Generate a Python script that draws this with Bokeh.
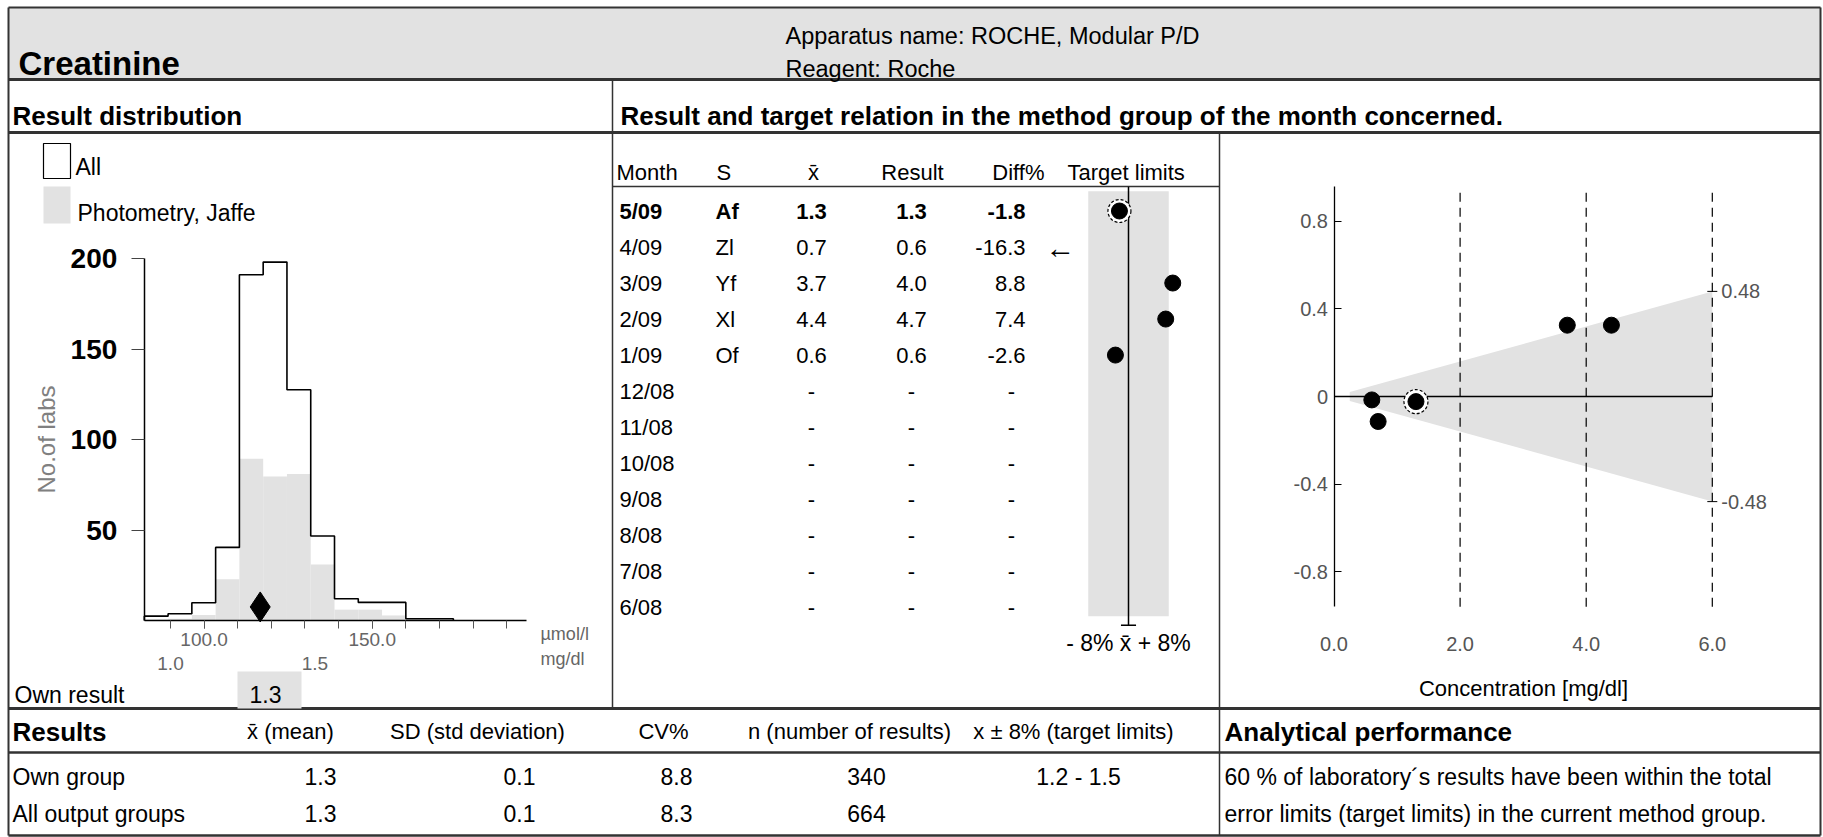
from bokeh.plotting import figure
from bokeh.models import Range1d, LinearAxis, FixedTicker, PrintfTickFormatter, ColumnDataSource
from bokeh.core.properties import value
from bokeh.embed import file_html
from bokeh.resources import INLINE

# ------------------------------------------------------------------ data
test_name = "Creatinine"
apparatus = "ROCHE, Modular P/D"
reagent = "Roche"
method_group = "Photometry, Jaffe"
umol_per_mgdl = 88.4
target_pct = 8

# histogram (bin edges in mg/dl, counts of labs)
hist_edges_mgdl = [0.93, 1.01, 1.09, 1.17, 1.25, 1.33, 1.41, 1.49, 1.57, 1.65, 1.73, 1.81, 1.89, 1.97]
hist_all = [2.4, 3.7, 9.8, 40.4, 191, 198, 127.5, 46.7, 12, 10, 10, 1, 1]
hist_method = [0.5, 1, 3, 22.8, 89.3, 79.6, 81, 31, 6, 6, 2.8, 0.5, 0]
own_result = 1.32  # mg/dl
count_ticks = [50, 100, 150, 200]
umol_major_ticks = [100, 150]
umol_minor_ticks = [90, 100, 110, 120, 130, 140, 150, 160, 170, 180, 190]
mgdl_ticks = [1.0, 1.5]

# monthly results
months = ["5/09", "4/09", "3/09", "2/09", "1/09", "12/08", "11/08", "10/08", "9/08", "8/08", "7/08", "6/08"]
samples = ["Af", "Zl", "Yf", "Xl", "Of", "", "", "", "", "", "", ""]
means = [1.3, 0.7, 3.7, 4.4, 0.6, None, None, None, None, None, None, None]
results = [1.3, 0.6, 4.0, 4.7, 0.6, None, None, None, None, None, None, None]
diffs = [-1.8, -16.3, 8.8, 7.4, -2.6, None, None, None, None, None, None, None]

# deviation plot axes
conc_ticks = [0, 2, 4, 6]
dev_ticks = [-0.8, -0.4, 0, 0.4, 0.8]

# summary statistics
stat_rows = ["Own group", "All output groups"]
stat_mean = [1.3, 1.3]
stat_sd = [0.1, 0.1]
stat_cv = [8.8, 8.3]
stat_n = [340, 664]
stat_limits = ["1.2 - 1.5", ""]
performance_pct = 60

# ------------------------------------------------------------------ canvas
W, H = 1823, 837
FONT = "Liberation Sans"
LINE = "#333333"
GRAY = "#e2e2e2"

p = figure(width=W, height=H, x_range=Range1d(0, W), y_range=Range1d(H, 0),
           x_axis_type=None, y_axis_type=None, toolbar_location=None,
           output_backend="svg", min_border=0, outline_line_color=None,
           background_fill_color="white", border_fill_color="white")
p.xgrid.visible = False
p.ygrid.visible = False

# histogram scales (pixel anchors: 100 umol/l -> x 203.6, 3.362 px per umol/l; 0 labs -> y 620, 1.81 px per lab)
hpx, h0 = 3.362, 100 - 203.6 / 3.362
cpx, c0 = 1.81, 620
# second (mg/dl) scale as printed on the report: 1.0 -> x 170, 1.5 -> x 314.4
mpx, m0 = 288.8, 1.0 - 170 / 288.8
# deviation plot scales (0 mg/dl -> x 1333.5, 63.05 px/unit; 0 -> y 396, 219 px/unit)
spx, s0 = 63.05, 1333.5
dpx, d0 = 219.0, 396
# target column (0 % -> x 1128, 5.03 px per %), rows (row 0 -> y 210.5, 36.02 px per row)
tpx, t0 = 5.03, 1128
rpx, r0 = 36.02, 210.5

p.extra_x_ranges = {
    "hx": Range1d(h0, h0 + W / hpx),
    "hmg": Range1d(m0, m0 + W / mpx),
    "sx": Range1d(-s0 / spx, (W - s0) / spx),
    "tx": Range1d(-t0 / tpx, (W - t0) / tpx),
}
p.extra_y_ranges = {
    "hy": Range1d(-(H - c0) / cpx, c0 / cpx),
    "sy": Range1d(-(H - d0) / dpx, d0 / dpx),
    "rows": Range1d((H - r0) / rpx, -r0 / rpx),
}


def add_text(xs, ys, texts, size, align="left", baseline="middle", bold=False, color="#000000", **kw):
    src = ColumnDataSource(dict(x=list(xs), y=list(ys), t=list(texts)))
    p.text(x="x", y="y", text="t", source=src, text_font=value(FONT),
           text_font_size=f"{size}px", text_font_style="bold" if bold else "normal",
           text_align=align, text_baseline=baseline, text_color=color, **kw)


def fmt(v, f="{:.1f}"):
    return "-" if v is None else f.format(v)


# ------------------------------------------------------------------ report frame
p.quad(left=[8], right=[1820], top=[7], bottom=[79], fill_color=GRAY, line_color=None)
p.segment(x0=[8, 8, 8, 8, 8, 8, 1820, 612, 1219, 612, 8],
          y0=[7, 79, 132, 708, 752, 835, 7, 79, 132, 186, 7],
          x1=[1820, 1820, 1820, 1820, 1820, 1820, 1820, 612, 1219, 1219, 8],
          y1=[7, 79, 132, 708, 752, 835, 835, 708, 835, 186, 835],
          line_color=LINE, line_width=[2, 3, 3, 3, 2.5, 2.5, 2, 1.5, 1.5, 1.5, 2])

add_text([18], [63], [test_name], 33, baseline="alphabetic", bold=True)
add_text([785, 785], [35, 68], [f"Apparatus name:  {apparatus}", f"Reagent:  {reagent}"], 23.5,
         baseline="alphabetic")
add_text([12, 620], [115, 115], ["Result distribution",
                                 "Result and target relation in the method group of the month concerned."],
         26, baseline="alphabetic", bold=True)

# ------------------------------------------------------------------ histogram
edges_um = [e * umol_per_mgdl for e in hist_edges_mgdl]
p.quad(left=edges_um[:-1], right=edges_um[1:], top=hist_method, bottom=0,
       fill_color=GRAY, line_color=None, x_range_name="hx", y_range_name="hy")
step_x, step_y = [edges_um[0]], [0]
for i, c in enumerate(hist_all):
    step_x += [edges_um[i], edges_um[i + 1]]
    step_y += [c, c]
step_x.append(edges_um[-1])
step_y.append(0)
p.line(step_x, step_y, line_color="black", line_width=1.6, x_range_name="hx", y_range_name="hy")
p.scatter(x=[own_result * umol_per_mgdl], y=[7.5], marker="diamond", size=30,
          fill_color="black", line_color="black", x_range_name="hx", y_range_name="hy")

ax_um = LinearAxis(x_range_name="hx", y_range_name="hy", fixed_location=0,
                   bounds=(edges_um[0], 196),
                   ticker=FixedTicker(ticks=umol_major_ticks, minor_ticks=umol_minor_ticks),
                   formatter=PrintfTickFormatter(format="%.1f"))
ax_um.axis_line_color = "black"
ax_um.axis_line_width = 1.5
ax_um.major_tick_out = 8
ax_um.major_tick_in = 0
ax_um.minor_tick_out = 8
ax_um.minor_tick_in = 0
ax_um.major_tick_line_color = "#555555"
ax_um.minor_tick_line_color = "#555555"
ax_um.major_label_standoff = 4
ax_um.major_label_text_font = FONT
ax_um.major_label_text_font_size = "19px"
ax_um.major_label_text_color = "#666666"
p.add_layout(ax_um, "below")

ax_mg = LinearAxis(x_range_name="hmg", y_range_name="hy", fixed_location=0,
                   ticker=FixedTicker(ticks=mgdl_ticks, minor_ticks=[]),
                   formatter=PrintfTickFormatter(format="%.1f"))
ax_mg.axis_line_color = None
ax_mg.major_tick_line_color = None
ax_mg.minor_tick_line_color = None
ax_mg.major_tick_out = 0
ax_mg.major_tick_in = 0
ax_mg.major_label_standoff = 36
ax_mg.major_label_text_font = FONT
ax_mg.major_label_text_font_size = "19px"
ax_mg.major_label_text_color = "#666666"
p.add_layout(ax_mg, "below")

ax_cnt = LinearAxis(x_range_name="hx", y_range_name="hy", fixed_location=edges_um[0],
                    bounds=(0, 200), ticker=FixedTicker(ticks=count_ticks, minor_ticks=[]),
                    axis_label="No.of labs")
ax_cnt.axis_line_color = "black"
ax_cnt.axis_line_width = 1.5
ax_cnt.major_tick_out = 13
ax_cnt.major_tick_in = 0
ax_cnt.major_tick_line_color = "#444444"
ax_cnt.minor_tick_line_color = None
ax_cnt.major_label_standoff = 14
ax_cnt.major_label_text_font = FONT
ax_cnt.major_label_text_font_size = "28px"
ax_cnt.major_label_text_font_style = "bold"
ax_cnt.major_label_text_color = "black"
ax_cnt.axis_label_text_font = FONT
ax_cnt.axis_label_text_font_size = "24px"
ax_cnt.axis_label_text_font_style = "normal"
ax_cnt.axis_label_text_color = "#808080"
ax_cnt.axis_label_standoff = 8
p.add_layout(ax_cnt, "left")

# legend
p.quad(left=[43], right=[70], top=[143], bottom=[178], fill_color="white", line_color="black", line_width=1.2)
p.quad(left=[43], right=[70], top=[186], bottom=[223], fill_color=GRAY, line_color=None)
add_text([75, 77], [166, 212], ["All", method_group], 23)
add_text([540, 540], [633, 658], ["\u00b5mol/l", "mg/dl"], 18, color="#666666")

# own result box
p.quad(left=[237], right=[301], top=[671], bottom=[708], fill_color=GRAY, line_color=None)
add_text([14, 249], [694, 694], ["Own result", f"{own_result:.1f}"], 23)

# ------------------------------------------------------------------ monthly table
add_text([616, 716], [172, 172], ["Month", "S"], 22)
add_text([813, 912], [172, 172], ["x\u0304", "Result"], 22, align="center")
add_text([1044], [172], ["Diff%"], 22, align="right")
add_text([1067], [172], ["Target limits"], 22)

rows = list(range(len(months)))
for bold, idx in ((True, rows[:1]), (False, rows[1:])):
    add_text([619] * len(idx), idx, [months[i] for i in idx], 22, bold=bold, y_range_name="rows")
    add_text([715] * len(idx), idx, [samples[i] for i in idx], 22, bold=bold, y_range_name="rows")
    add_text([811] * len(idx), idx, [fmt(means[i]) for i in idx], 22, align="center", bold=bold,
             y_range_name="rows")
    add_text([911] * len(idx), idx, [fmt(results[i]) for i in idx], 22, align="center", bold=bold,
             y_range_name="rows")
    d_idx = [i for i in idx if diffs[i] is not None]
    n_idx = [i for i in idx if diffs[i] is None]
    if d_idx:
        add_text([1025] * len(d_idx), d_idx, [fmt(diffs[i]) for i in d_idx], 22, align="right", bold=bold,
                 y_range_name="rows")
    if n_idx:
        add_text([1011] * len(n_idx), n_idx, ["-"] * len(n_idx), 22, align="center", bold=bold,
                 y_range_name="rows")

# target limit band
p.quad(left=[-target_pct], right=[target_pct], top=[-0.55], bottom=[len(months) - 0.75],
       fill_color=GRAY, line_color=None, x_range_name="tx", y_range_name="rows")
p.segment(x0=[0, -1.5], y0=[-0.67, len(months) - 0.5], x1=[0, 1.5], y1=[len(months) - 0.5, len(months) - 0.5],
          line_color="black", line_width=1.5, x_range_name="tx", y_range_name="rows")
add_text([0], [len(months)], [f"- {target_pct}% x\u0304 + {target_pct}%"], 23, align="center",
         x_range_name="tx", y_range_name="rows")

in_rows = [i for i in rows if diffs[i] is not None and abs(diffs[i]) <= target_pct + 2]
out_rows = [i for i in rows if diffs[i] is not None and abs(diffs[i]) > target_pct + 2]
p.scatter(x=[diffs[0]], y=[0], size=23, fill_color="white", line_color="black", line_dash="3 2",
          line_width=1.2, x_range_name="tx", y_range_name="rows")
p.scatter(x=[diffs[i] for i in in_rows], y=in_rows, size=16, fill_color="black", line_color="black",
          x_range_name="tx", y_range_name="rows")
add_text([-target_pct if diffs[i] < 0 else target_pct for i in out_rows], out_rows,
         ["\u2190" if diffs[i] < 0 else "\u2192" for i in out_rows], 30, align="center",
         x_offset=-28, x_range_name="tx", y_range_name="rows")

# ------------------------------------------------------------------ deviation plot
cmax = conc_ticks[-1]
lim = cmax * target_pct / 100
x_start = 0.25
p.patch(x=[x_start, cmax, cmax, x_start],
        y=[x_start * target_pct / 100, lim, -lim, -x_start * target_pct / 100],
        fill_color=GRAY, line_color=None, x_range_name="sx", y_range_name="sy")
p.segment(x0=conc_ticks[1:], y0=[-0.96] * 3, x1=conc_ticks[1:], y1=[0.94] * 3,
          line_color="black", line_dash="9 6", line_width=1.2, x_range_name="sx", y_range_name="sy")
p.segment(x0=[0], y0=[0], x1=[cmax], y1=[0], line_color="black", line_width=1.5,
          x_range_name="sx", y_range_name="sy")
p.scatter(x=[cmax, cmax], y=[lim, -lim], marker="dash", size=10, line_color="black",
          x_range_name="sx", y_range_name="sy")
add_text([cmax, cmax], [lim, -lim], [f"{lim:.2f}", f"{-lim:.2f}"], 20, color="#555555",
         x_offset=9, x_range_name="sx", y_range_name="sy")

pts = [i for i in rows if means[i] is not None]
dev = [means[i] * diffs[i] / 100 for i in pts]
p.scatter(x=[means[0]], y=[dev[0]], size=24, fill_color="white", line_color="black", line_dash="3 2",
          line_width=1.2, x_range_name="sx", y_range_name="sy")
p.scatter(x=[means[i] for i in pts], y=dev, size=16, fill_color="black", line_color="black",
          x_range_name="sx", y_range_name="sy")

ax_dev = LinearAxis(x_range_name="sx", y_range_name="sy", fixed_location=0, bounds=(-0.96, 0.96),
                    ticker=FixedTicker(ticks=dev_ticks, minor_ticks=[]),
                    formatter=PrintfTickFormatter(format="%.1f"), major_label_overrides={0: "0"})
ax_dev.axis_line_color = "black"
ax_dev.axis_line_width = 1.3
ax_dev.major_tick_in = 7
ax_dev.major_tick_out = 0
ax_dev.major_label_standoff = 6
ax_dev.major_label_text_font = FONT
ax_dev.major_label_text_font_size = "20px"
ax_dev.major_label_text_color = "#555555"
p.add_layout(ax_dev, "left")

ax_conc = LinearAxis(x_range_name="sx", y_range_name="sy", fixed_location=-0.96, bounds=(0, cmax),
                     ticker=FixedTicker(ticks=conc_ticks, minor_ticks=[]),
                     formatter=PrintfTickFormatter(format="%.1f"), axis_label="Concentration [mg/dl]")
ax_conc.axis_line_color = None
ax_conc.major_tick_line_color = None
ax_conc.major_tick_out = 0
ax_conc.major_tick_in = 0
ax_conc.major_label_standoff = 30
ax_conc.major_label_text_font = FONT
ax_conc.major_label_text_font_size = "20px"
ax_conc.major_label_text_color = "#555555"
ax_conc.axis_label_text_font = FONT
ax_conc.axis_label_text_font_size = "22px"
ax_conc.axis_label_text_font_style = "normal"
ax_conc.axis_label_text_color = "black"
ax_conc.axis_label_standoff = 22
p.add_layout(ax_conc, "below")

# ------------------------------------------------------------------ summary table
add_text([12], [731], ["Results"], 26, bold=True)
add_text([290, 477, 663, 849, 1073], [731] * 5,
         ["x\u0304 (mean)", "SD (std deviation)", "CV%", "n (number of results)",
          f"x \u00b1 {target_pct}% (target limits)"], 22, align="center")
add_text([1224], [731], ["Analytical performance"], 26, bold=True)

row_y = [776, 813]
add_text([12, 12], row_y, stat_rows, 23)
add_text([336, 336], row_y, [f"{v:.1f}" for v in stat_mean], 23, align="right")
add_text([535, 535], row_y, [f"{v:.1f}" for v in stat_sd], 23, align="right")
add_text([692, 692], row_y, [f"{v:.1f}" for v in stat_cv], 23, align="right")
add_text([866, 866], row_y, [str(v) for v in stat_n], 23, align="center")
add_text([1078, 1078], row_y, stat_limits, 23, align="center")
add_text([1224, 1224], row_y,
         [f"{performance_pct} % of laboratory\u00b4s results have been within the total",
          "error limits (target limits) in the current method group."], 23)

open("out.html", "w").write(file_html(p, INLINE))
